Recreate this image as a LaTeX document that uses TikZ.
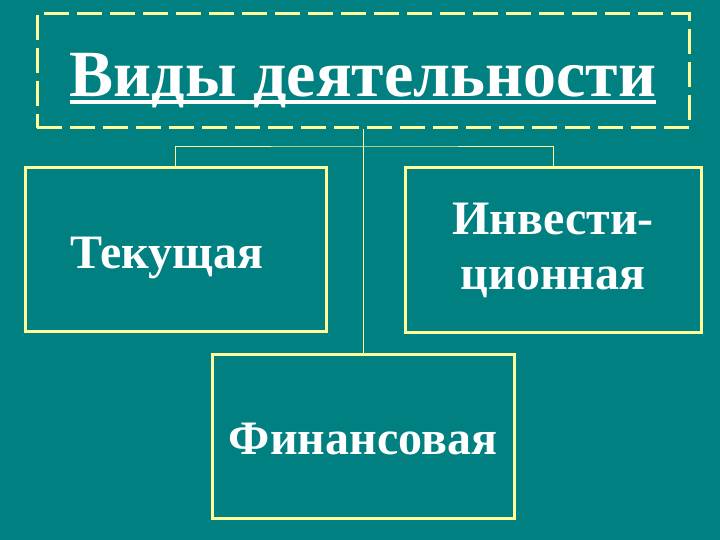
\documentclass[tikz,border=0pt]{standalone}
\usepackage{fontspec}
\setmainfont{Liberation Serif}
\definecolor{bgteal}{RGB}{0,128,128}
\definecolor{lineyellow}{RGB}{255,255,153}
% thick underline for the heading
\newcommand\thickul[1]{\setbox0\hbox{#1}\rlap{\rule[-7pt]{\wd0}{4pt}}\box0}

\begin{document}
\begin{tikzpicture}[x=1pt,y=-1pt,
		vidbox/.style={draw=lineyellow,line width=3pt,fill=bgteal,text=white,inner sep=0pt,
			font=\fontsize{48}{55}\selectfont\bfseries},
		link/.style={draw=lineyellow,line width=0.8pt}]
		\fill[bgteal] (0,0) rectangle (720,540);
		\node[vidbox,dash pattern=on 25pt off 8pt,minimum width=652pt,minimum height=114pt,
			text height=56pt,text depth=4pt,font=\fontsize{66}{70}\selectfont\bfseries] (title) at (363,71) {\thickul{Виды деятельности}};
		\node[vidbox,minimum width=301pt,minimum height=163pt,text height=40pt,text depth=3pt] (tek) at (175.5,249.5) {Текущая\hspace*{18pt}};
		\node[vidbox,minimum width=296pt,minimum height=164pt,align=center] (inv) at (553,250) {Инвести-\\ционная};
		\node[vidbox,minimum width=302pt,minimum height=164pt,text height=38pt,text depth=3pt] (fin) at (363,436.5) {Финансовая};
		\coordinate (bar) at (365,146);
		\draw[link] (title.south) -- (fin.north);
		\draw[link] (tek.north) |- (bar) -| (inv.north);
	\end{tikzpicture}
\end{document}
